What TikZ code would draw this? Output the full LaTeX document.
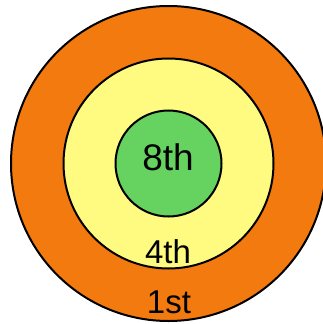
\documentclass[tikz,border=0pt]{standalone}
\usepackage{fontspec}
\setmainfont{Liberation Sans}
\usetikzlibrary{positioning}
\definecolor{ringorange}{HTML}{F27A0E}
\definecolor{ringyellow}{HTML}{FFFA80}
\definecolor{ringgreen}{HTML}{66D25F}

\begin{document}
\begin{tikzpicture}[x=1pt,y=1pt,
   ring/.style={draw=black,circle,line width=2pt,inner sep=0pt},
   lbl/.style={anchor=base,inner sep=0pt,font=\fontsize{33}{33}\selectfont},
   lblbig/.style={lbl,font=\fontsize{37}{37}\selectfont}]
  \useasboundingbox (0,0) rectangle (322,-324);
  \coordinate (c) at (168.5,-163.5);
  \node[ring,fill=ringorange,minimum size=315pt] (first) at (c) {};
  \node[ring,fill=ringyellow,minimum size=210pt] (fourth) at (c) {};
  \node[ring,fill=ringgreen,minimum size=106pt] (eighth) at (c) {};
  % labels
  \node[lblbig] (t8) at (168,-170) {8th};
  \node[lbl] (t4) at (168,-263) {4th};
  \node[lbl] (t1) at (169,-313) {1st};
\end{tikzpicture}
\end{document}
